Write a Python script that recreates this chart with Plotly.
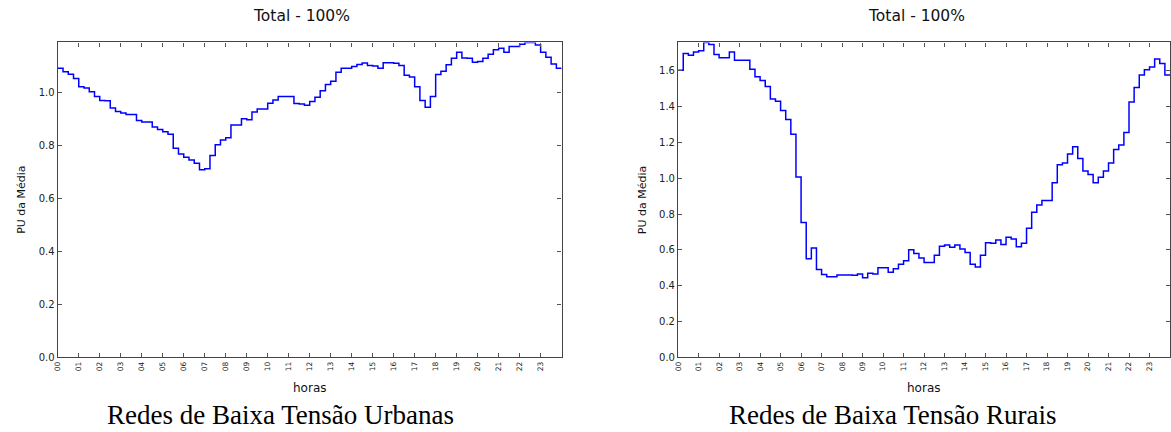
import plotly.graph_objects as go

# 15-minute values (96 per day), PU of mean
urban = [1.090, 1.076, 1.067, 1.051, 1.020, 1.015, 1.001, 0.983,
         0.968, 0.967, 0.940, 0.927, 0.921, 0.915, 0.915, 0.893,
         0.887, 0.887, 0.868, 0.859, 0.850, 0.841, 0.788, 0.767,
         0.754, 0.744, 0.732, 0.707, 0.711, 0.761, 0.801, 0.819,
         0.828, 0.876, 0.876, 0.899, 0.896, 0.925, 0.936, 0.936,
         0.958, 0.970, 0.983, 0.983, 0.983, 0.957, 0.955, 0.950,
         0.964, 0.980, 1.005, 1.028, 1.041, 1.075, 1.090, 1.090,
         1.096, 1.104, 1.109, 1.100, 1.098, 1.090, 1.110, 1.110,
         1.108, 1.100, 1.063, 1.057, 1.020, 0.968, 0.943, 0.983,
         1.066, 1.078, 1.103, 1.127, 1.150, 1.128, 1.127, 1.112,
         1.115, 1.127, 1.142, 1.159, 1.165, 1.150, 1.172, 1.172,
         1.180, 1.187, 1.187, 1.177, 1.150, 1.131, 1.106, 1.090]

rural = [1.601, 1.695, 1.685, 1.704, 1.711, 1.757, 1.745, 1.689,
         1.671, 1.671, 1.704, 1.658, 1.658, 1.658, 1.607, 1.566,
         1.544, 1.511, 1.441, 1.429, 1.377, 1.327, 1.245, 1.006,
         0.753, 0.551, 0.611, 0.491, 0.462, 0.450, 0.450, 0.460,
         0.460, 0.460, 0.458, 0.465, 0.445, 0.470, 0.465, 0.500,
         0.500, 0.475, 0.495, 0.520, 0.540, 0.600, 0.580, 0.555,
         0.530, 0.530, 0.570, 0.620, 0.627, 0.615, 0.627, 0.605,
         0.585, 0.520, 0.505, 0.570, 0.640, 0.637, 0.655, 0.630,
         0.670, 0.660, 0.618, 0.637, 0.720, 0.810, 0.850, 0.875,
         0.875, 0.975, 1.075, 1.085, 1.135, 1.175, 1.110, 1.040,
         1.020, 0.975, 1.005, 1.040, 1.085, 1.160, 1.185, 1.255,
         1.425, 1.505, 1.575, 1.605, 1.620, 1.665, 1.640, 1.575]

hour_labels = ["%02d" % h for h in range(24)]
hour_ticks = list(range(24))
y_ticks = [0.0, 0.2, 0.4, 0.6, 0.8, 1.0, 1.2, 1.4, 1.6]

title_text = "Total - 100%"
ylabel = "PU da Média"
xlabel = "horas"
captions = ["Redes de Baixa Tensão Urbanas", "Redes de Baixa Tensão Rurais"]

W, H = 1171, 432
times = [i * 0.25 for i in range(96)] + [24.0]

fig = go.Figure()
fig.add_trace(go.Scatter(x=times, y=urban + [urban[-1]], mode="lines",
                         line=dict(color="#0000ff", width=1.5, shape="hv"),
                         xaxis="x", yaxis="y", showlegend=False))
fig.add_trace(go.Scatter(x=times, y=rural + [rural[-1]], mode="lines",
                         line=dict(color="#0000ff", width=1.5, shape="hv"),
                         xaxis="x2", yaxis="y2", showlegend=False))

left = (53, 559)
right = (676, 1170)
top, bottom = 43, 362.5

def xdom(a, b):
    return [a / W, b / W]

ydom = [1 - bottom / H, 1 - top / H]

axcommon = dict(showline=True, linecolor="#444", linewidth=1.3, mirror="ticks",
                ticks="inside", ticklen=4, tickcolor="#555", tickwidth=1,
                showgrid=False, zeroline=False)

xaxis_common = dict(axcommon, range=[0, 24], tickvals=hour_ticks, ticktext=hour_labels,
                    tickangle=-90, tickfont=dict(family="DejaVu Sans", size=7.5, color="#222"))

fig.update_layout(
    width=W, height=H, margin=dict(l=0, r=0, t=0, b=0),
    paper_bgcolor="white", plot_bgcolor="white",
    xaxis=dict(xaxis_common, domain=xdom(*left), anchor="y"),
    yaxis=dict(axcommon, domain=ydom, anchor="x", range=[0, max(urban)],
               tickvals=y_ticks, ticktext=["%.1f" % v for v in y_ticks],
               tickfont=dict(family="DejaVu Sans", size=10, color="#222")),
    xaxis2=dict(xaxis_common, domain=xdom(*right), anchor="y2"),
    yaxis2=dict(axcommon, domain=ydom, anchor="x2", range=[0, max(rural)],
                tickvals=y_ticks, ticktext=["%.1f" % v for v in y_ticks],
                tickfont=dict(family="DejaVu Sans", size=10, color="#222")),
)

anns = []
for (a, b), cap, ylx, tx, capx in [(left, captions[0], 17, 298, 277),
                                   (right, captions[1], 641, 915, 892)]:
    cx = (a + b) / 2
    anns.append(dict(x=tx / W, y=1 - 16.5 / H, xref="paper", yref="paper", text=title_text,
                     showarrow=False, xanchor="center", yanchor="middle",
                     font=dict(family="DejaVu Sans", size=15.5, color="#111")))
    anns.append(dict(x=cx / W, y=1 - 393 / H, xref="paper", yref="paper", text=xlabel,
                     showarrow=False, xanchor="center", yanchor="middle",
                     font=dict(family="DejaVu Sans", size=12, color="#111")))
    anns.append(dict(x=ylx / W, y=1 - ((top + bottom) / 2) / H, xref="paper", yref="paper",
                     text=ylabel, textangle=-90, showarrow=False, xanchor="center",
                     yanchor="middle", font=dict(family="DejaVu Sans", size=11, color="#111")))
    anns.append(dict(x=capx / W, y=1 - 421 / H, xref="paper", yref="paper", text=cap,
                     showarrow=False, xanchor="center", yanchor="middle",
                     font=dict(family="Liberation Serif", size=27, color="#000")))
fig.update_layout(annotations=anns)

fig.write_html("out.html", config={"displayModeBar": False},
               post_script="document.body.style.margin='0';document.body.style.overflow='hidden';")
